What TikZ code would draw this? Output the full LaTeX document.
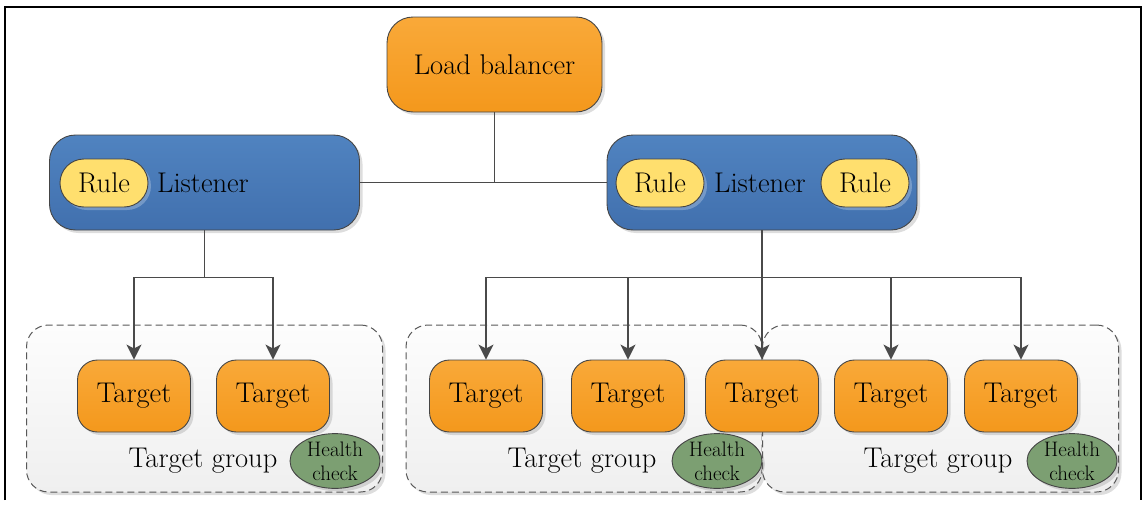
\documentclass[tikz,border=0pt]{standalone}
\usetikzlibrary{arrows.meta,shadows,shapes.geometric}
\definecolor{lbA}{HTML}{F9A939}
\definecolor{lbB}{HTML}{F4981C}
\definecolor{lsA}{HTML}{5083C0}
\definecolor{lsB}{HTML}{4170AE}
\definecolor{ruleY}{HTML}{FFDF6E}
\definecolor{hcG}{HTML}{7C9F72}
\definecolor{edge}{HTML}{454545}
\definecolor{wire}{HTML}{4A4A4A}
\definecolor{grpA}{HTML}{FDFDFD}
\definecolor{grpB}{HTML}{EFEFEF}
\tikzset{
  softshadow/.style={drop shadow={shadow xshift=3pt, shadow yshift=-3pt, opacity=0.22, fill=black!60}},
  orangebox/.style={draw=edge, line width=0.9pt, top color=lbA, bottom color=lbB, softshadow,
    rounded corners=22pt, font=\fontsize{28.5}{30}\selectfont},
  lbnode/.style={orangebox, minimum width=215pt, minimum height=95pt, rounded corners=26pt},
  tgt/.style={orangebox, minimum width=113pt, minimum height=72pt, rounded corners=20pt},
  lstn/.style={draw=edge, line width=0.9pt, top color=lsA, bottom color=lsB, softshadow,
    rounded corners=26pt, minimum width=310pt, minimum height=95pt},
  rulepill/.style={draw=edge, line width=0.9pt, fill=ruleY, rounded corners=24pt,
    minimum width=88pt, minimum height=48pt, font=\fontsize{28.5}{30}\selectfont,
    drop shadow={shadow xshift=3pt, shadow yshift=-3pt, opacity=0.35, fill=white!70!lsA}},
  grp/.style={draw=edge!90, dashed, dash pattern=on 7pt off 4pt, line width=1pt,
    top color=grpA, bottom color=grpB, rounded corners=22pt,
    minimum width=356pt, minimum height=167pt, softshadow},
  hcheck/.style={draw=edge, line width=0.9pt, fill=hcG, ellipse, minimum width=90pt,
    minimum height=48pt, inner sep=0pt, align=center,
    font=\fontsize{21}{24}\selectfont, softshadow},
  lbl/.style={font=\fontsize{28.5}{30}\selectfont, inner sep=0pt},
  feed/.style={draw=wire, line width=1.3pt},
  feedarrow/.style={feed, -{Stealth[length=15pt, width=15pt, inset=4pt]}},
}
\begin{document}
\begin{tikzpicture}[x=1pt, y=-1pt]

\useasboundingbox (0,0) rectangle (1146,506);

% outer frame (bottom edge cropped away)
\draw[line width=2.5pt] (5,500) -- (5,7) -- (1141,7) -- (1141,500);

% target groups in the back
\node[grp] (grpL) at (204.5,408.5) {};
\node[grp] (grpM) at (584,408.5) {};
\node[grp] (grpR) at (940.5,408.5) {};

% load balancer and listeners
\node[lbnode] (lb) at (494.5,64.5) {Load balancer};
\node[lstn] (lsL) at (204.5,182.5) {};
\node[lstn] (lsR) at (762,182.5) {};
\node[rulepill] (ruleL) at (104,183) {Rule};
\node[lbl] (lsLtxt) at (203,183) {Listener};
\node[rulepill] (ruleRa) at (660,183) {Rule};
\node[lbl] (lsRtxt) at (760,183) {Listener};
\node[rulepill] (ruleRb) at (865,183) {Rule};

% targets
\foreach \nm/\cx in {tA/134, tB/273, tC/486, tD/628, tE/762, tF/891, tG/1021}
  \node[tgt] (\nm) at (\cx,396) {Target};

% group labels and health checks
\foreach \nm/\tx/\hx in {L/203/335, M/582/717, R/938/1072} {
  \node[lbl] (gl\nm) at (\tx,461) {Target group};
  \node[hcheck] (hc\nm) at (\hx,461) {Health\\check};
}

% load balancer to the listeners
\coordinate (lbjoin) at (lb.south |- lsL.east);
\draw[feed] (lb.south) -- (lbjoin);
\draw[feed] (lsL.east) -- (lsR.west);

% left listener feeds its group
\coordinate (busL) at (lsL.south |- 0,277.5);
\draw[feed] (lsL.south) -- (busL);
\draw[feedarrow] (busL) -| (tA.north);
\draw[feedarrow] (busL) -| (tB.north);

% right listener feeds five targets
\coordinate (busR) at (lsR.south |- 0,277.5);
\draw[feedarrow] (lsR.south) -- (tE.north);
\foreach \nm in {tC, tD, tF, tG}
  \draw[feedarrow] (busR) -| (\nm.north);

\end{tikzpicture}
\end{document}
